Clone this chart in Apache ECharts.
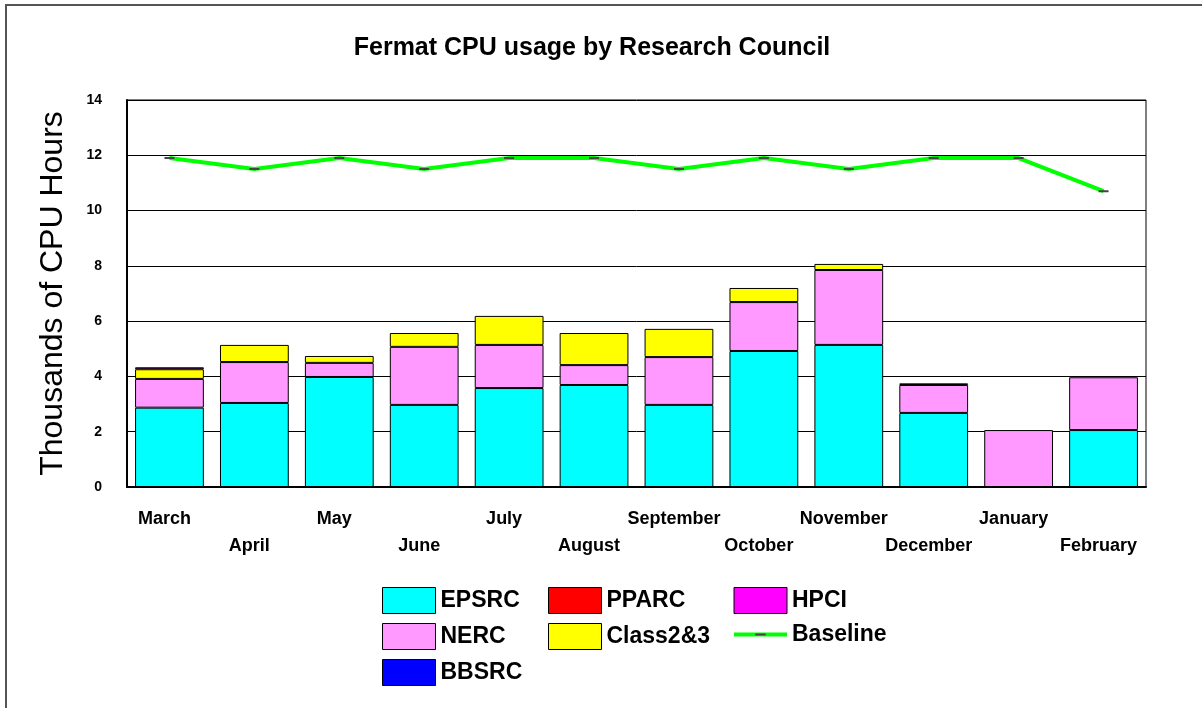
<!DOCTYPE html>
<html>
<head>
    <meta charset="utf-8">
    <title>Fermat CPU usage by Research Council</title>
    <script type="text/javascript" src="https://cdn.jsdelivr.net/npm/echarts@6/dist/echarts.min.js"></script>
    <style>
        html, body { margin: 0; padding: 0; background: #fff; }
        #main { width: 1202px; height: 708px; }
    </style>
</head>
<body>
<div id="main"></div>
<script type="text/javascript">
    // 月份
    var months = ['March','April','May','June','July','August','September','October','November','December','January','February'];
    // 各研究委员会用量（千小时）
    var epsrc   = [2.87, 3.04, 3.98, 2.97, 3.58, 3.69, 2.97, 4.92, 5.14, 2.68, 0,    2.06];
    var nerc    = [1.04, 1.48, 0.51, 2.10, 1.56, 0.72, 1.73, 1.77, 2.71, 1.01, 2.06, 1.91];
    var bbsrc   = [0, 0, 0, 0, 0, 0, 0, 0, 0, 0, 0, 0];
    var pparc   = [0, 0, 0, 0, 0, 0, 0, 0, 0, 0, 0, 0];
    var class23 = [0.35, 0.62, 0.25, 0.50, 1.05, 1.16, 1.02, 0.51, 0.22, 0.06, 0, 0];
    var hpci    = [0.07, 0, 0, 0, 0, 0, 0, 0, 0, 0, 0, 0];
    var baseline = [11.9, 11.5, 11.9, 11.5, 11.9, 11.9, 11.5, 11.9, 11.5, 11.9, 11.9, 10.7];
    var yTicks = [0, 2, 4, 6, 8, 10, 12, 14];

    // 短横线标记（方形包围盒，中间一条细线）
    var dashSymbol = 'path://M0,0 L0.01,0 L0.01,0.01 Z M2.5,4.5 L7.5,4.5 L7.5,5.5 L2.5,5.5 Z M10,10 L9.99,10 L9.99,9.99 Z';

    function noZero(arr) {
        return arr.map(function (v) { return v === 0 ? '-' : v; });
    }

    function barSeries(name, data, color) {
        return {
            name: name,
            type: 'bar',
            stack: 'rc',
            data: noZero(data),
            barCategoryGap: '19%',
            itemStyle: { color: color, borderColor: '#000', borderWidth: 1 }
        };
    }

    var legendText = { fontFamily: 'Liberation Sans', fontWeight: 'bold', fontSize: 23, color: '#000' };
    function legendCol(left, names) {
        return {
            orient: 'vertical', left: left, top: 582, itemWidth: 53, itemHeight: 26, itemGap: 9,
            icon: 'rect', textStyle: legendText,
            itemStyle: { borderColor: '#000', borderWidth: 1 },
            data: names
        };
    }

    var chart = echarts.init(document.getElementById('main'));
    chart.setOption({
        animation: false,
        backgroundColor: '#fff',
        title: {
            text: 'Fermat CPU usage by Research Council',
            left: 587,
            textAlign: 'center',
            top: 31,
            textStyle: { fontFamily: 'Liberation Sans', fontWeight: 'bold', fontSize: 25, color: '#000' }
        },
        graphic: [{
            type: 'rect',
            shape: { x: 6, y: 5, width: 2000, height: 2000 },
            style: { fill: null, stroke: '#555', lineWidth: 2 }
        }],
        legend: [
            legendCol(377, ['EPSRC', 'NERC', 'BBSRC']),
            legendCol(543, ['PPARC', 'Class2&3']),
            legendCol(727, ['HPCI', {
                name: 'Baseline', icon: 'inherit',
                itemStyle: {borderWidth: 0},
                lineStyle: {width: 4, color: '#00FF00'}
            }])
        ],
        grid: { left: 127, right: 56, top: 100, bottom: 221, show: true, borderColor: '#000', borderWidth: 1 },
        xAxis: {
            type: 'category',
            data: months,
            axisLine: { lineStyle: { color: '#000', width: 2 } },
            axisTick: { show: false },
            axisLabel: {
                interval: 0,
                margin: 19,
                padding: [0, 10, 0, 0],
                fontFamily: 'Liberation Sans', fontWeight: 'bold', fontSize: 18, color: '#000',
                lineHeight: 27,
                formatter: function (v, i) { return (i % 2 ? '\n' : '') + v; }
            }
        },
        yAxis: {
            type: 'value',
            min: 0, max: 14, interval: 2,
            name: 'Thousands of CPU Hours',
            nameLocation: 'middle',
            nameGap: 58,
            nameTextStyle: { fontFamily: 'Liberation Sans', fontSize: 32, color: '#000' },
            axisLine: { show: true, lineStyle: { color: '#000', width: 2 } },
            axisTick: { show: false },
            axisLabel: {
                margin: 25,
                fontFamily: 'Liberation Sans', fontWeight: 'bold', fontSize: 14, color: '#000',
                formatter: function (v) { return yTicks.indexOf(v) >= 0 ? String(v) : ''; }
            },
            splitLine: { lineStyle: { color: '#000', width: 1 } }
        },
        series: [
            barSeries('EPSRC', epsrc, '#00FFFF'),
            barSeries('NERC', nerc, '#FF99FF'),
            barSeries('BBSRC', bbsrc, '#0000FF'),
            barSeries('PPARC', pparc, '#FF0000'),
            barSeries('Class2&3', class23, '#FFFF00'),
            barSeries('HPCI', hpci, '#FF00FF'),
            {
                name: 'Baseline',
                type: 'line',
                data: baseline,
                symbol: dashSymbol,
                symbolSize: 20,
                itemStyle: { color: '#444', borderWidth: 0 },
                lineStyle: { color: '#00FF00', width: 4 }
            }
        ]
    });
</script>
</body>
</html>
